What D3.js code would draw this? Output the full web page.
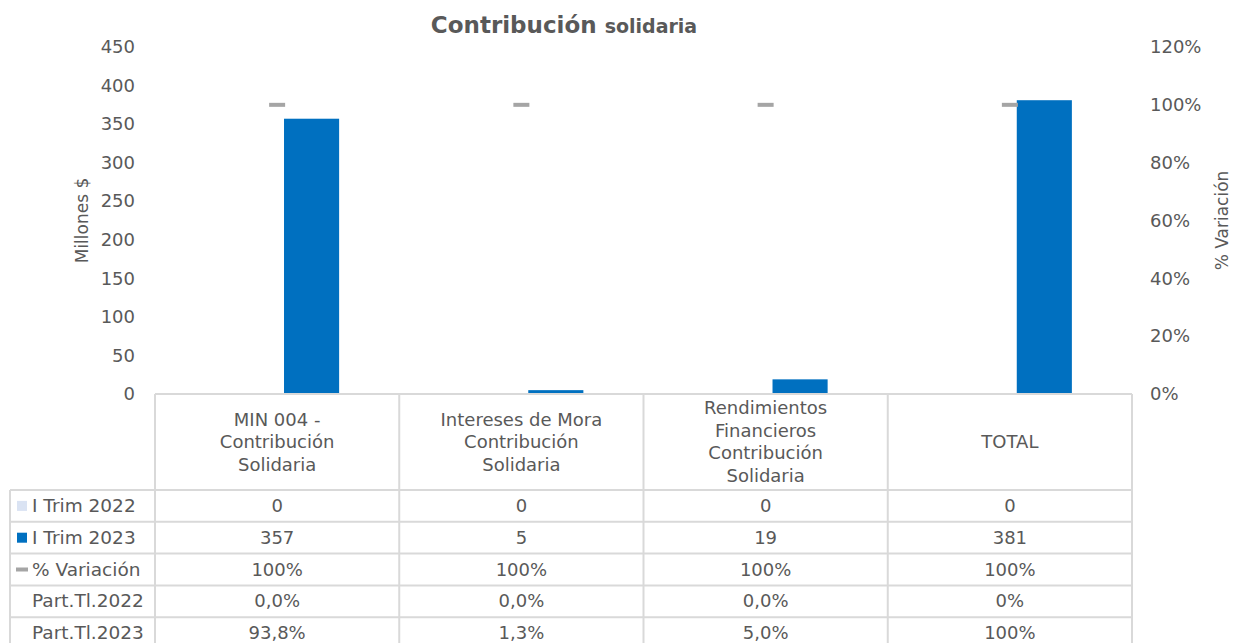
<!DOCTYPE html>
<html>
<head>
<meta charset="utf-8">
<script src="https://cdn.jsdelivr.net/npm/d3@7"></script>
<style>
  body { margin: 0; background: #fff; }
  text { font-family: "DejaVu Sans", Verdana, sans-serif; fill: #595959; }
</style>
</head>
<body>
<div id="chart"></div>
<script>
// data
const categories = [
  ["MIN 004 -", "Contribución", "Solidaria"],
  ["Intereses de Mora", "Contribución", "Solidaria"],
  ["Rendimientos", "Financieros", "Contribución", "Solidaria"],
  ["TOTAL"]
]
const series = ["I Trim 2022", "I Trim 2023"]
const trim2022 = [0, 0, 0, 0]
const trim2023 = [357, 5, 19, 381]
const variacion = [1, 1, 1, 1]
const part2022 = ["0,0%", "0,0%", "0,0%", "0%"]
const part2023 = ["93,8%", "1,3%", "5,0%", "100%"]
const leftTicks = [0, 50, 100, 150, 200, 250, 300, 350, 400, 450]
const rightTicks = [0, 0.2, 0.4, 0.6, 0.8, 1, 1.2]

const width = 1235, height = 643
const plotLeft = 155, plotRight = 1132, plotTop = 47, plotBottom = 394
const colors = {"I Trim 2022": "#DAE3F3", "I Trim 2023": "#0070C0"}
const gridColor = "#D9D9D9"
const varColor = "#A5A5A5"

const svg = d3.select("#chart").append("svg")
  .attr("width", width)
  .attr("height", height)

const idx = d3.range(categories.length)

const x0 = d3.scaleBand().domain(idx).range([plotLeft, plotRight])
const x1 = d3.scaleBand().domain(series).range([-62, 62]).paddingInner(0.2)
const yLeft = d3.scaleLinear().domain([0, 450]).range([plotBottom, plotTop])
const yRight = d3.scaleLinear().domain([0, 1.2]).range([plotBottom, plotTop])

// title
const title = svg.append("text")
  .attr("x", 564)
  .attr("y", 33)
  .attr("text-anchor", "middle")
  .style("font-weight", "bold")
title.append("tspan").attr("font-size", 23).text("Contribución ")
title.append("tspan").attr("font-size", 19).text("solidaria")

// axes
const leftAxis = svg.append("g")
  .attr("transform", `translate(${plotLeft}, 0)`)
  .call(d3.axisLeft(yLeft).tickValues(leftTicks).tickSize(0).tickPadding(20))
leftAxis.select(".domain").remove()
leftAxis.selectAll("text").attr("font-size", 18).style("font-family", null)

const rightAxis = svg.append("g")
  .attr("transform", `translate(${plotRight}, 0)`)
  .call(d3.axisRight(yRight).tickValues(rightTicks).tickSize(0).tickPadding(18).tickFormat(d3.format(".0%")))
rightAxis.select(".domain").remove()
rightAxis.selectAll("text").attr("font-size", 18).style("font-family", null)

svg.append("text")
  .attr("transform", `translate(88, ${(plotTop + plotBottom) / 2}) rotate(-90)`)
  .attr("text-anchor", "middle")
  .attr("font-size", 17)
  .text("Millones $")

svg.append("text")
  .attr("transform", `translate(1228, ${(plotTop + plotBottom) / 2}) rotate(-90)`)
  .attr("text-anchor", "middle")
  .attr("font-size", 17)
  .text("% Variación")

// bars
const barData = idx.flatMap(i => [
  {i, s: series[0], v: trim2022[i]},
  {i, s: series[1], v: trim2023[i]}
])
svg.append("g").selectAll("rect")
  .data(barData)
  .join("rect")
  .attr("x", d => x0(d.i) + x0.bandwidth() / 2 + x1(d.s))
  .attr("y", d => yLeft(d.v))
  .attr("width", x1.bandwidth())
  .attr("height", d => yLeft(0) - yLeft(d.v))
  .attr("fill", d => colors[d.s])

// variation markers
svg.append("g").selectAll("rect")
  .data(idx)
  .join("rect")
  .attr("x", i => x0(i) + x0.bandwidth() / 2 - 8)
  .attr("y", i => yRight(variacion[i]) - 2)
  .attr("width", 16)
  .attr("height", 4)
  .attr("fill", varColor)

// data table
const headerBottom = 490
const rowH = 31.8
const rows = [
  {label: "I Trim 2022", key: "sq", color: colors["I Trim 2022"], vals: trim2022.map(String)},
  {label: "I Trim 2023", key: "sq", color: colors["I Trim 2023"], vals: trim2023.map(String)},
  {label: "% Variación", key: "dash", color: varColor, vals: variacion.map(d3.format(".0%"))},
  {label: "Part.Tl.2022", key: null, vals: part2022},
  {label: "Part.Tl.2023", key: null, vals: part2023}
]
const table = svg.append("g")
const line = (x1, y1, x2, y2) => table.append("line")
  .attr("x1", x1).attr("y1", y1).attr("x2", x2).attr("y2", y2)
  .attr("stroke", gridColor).attr("stroke-width", 2)

const tableBottom = headerBottom + rowH * rows.length
line(plotLeft, plotBottom, plotRight, plotBottom)
idx.forEach(i => line(x0(i), plotBottom, x0(i), tableBottom))
line(plotRight, plotBottom, plotRight, tableBottom)
line(10, headerBottom, 10, tableBottom)
rows.forEach((r, k) => line(10, headerBottom + rowH * k, plotRight, headerBottom + rowH * k))

// header labels
idx.forEach(i => {
  const lines = categories[i]
  const lh = 22.5
  const cy = (plotBottom + headerBottom) / 2
  const t = table.append("text")
    .attr("text-anchor", "middle")
    .attr("font-size", 18)
  lines.forEach((l, j) => {
    t.append("tspan")
      .attr("x", x0(i) + x0.bandwidth() / 2)
      .attr("y", cy - (lines.length - 1) * lh / 2 + j * lh + 6)
      .text(l)
  })
})

// rows
rows.forEach((r, k) => {
  const cy = headerBottom + rowH * k + rowH / 2
  if (r.key === "sq") {
    table.append("rect").attr("x", 17).attr("y", cy - 5).attr("width", 10).attr("height", 10).attr("fill", r.color)
  } else if (r.key === "dash") {
    table.append("rect").attr("x", 16).attr("y", cy - 2).attr("width", 12).attr("height", 4).attr("fill", r.color)
  }
  table.append("text")
    .attr("x", 32)
    .attr("y", cy + 6)
    .attr("font-size", 18.5)
    .text(r.label)
  r.vals.forEach((v, i) => {
    table.append("text")
      .attr("x", x0(i) + x0.bandwidth() / 2)
      .attr("y", cy + 6)
      .attr("text-anchor", "middle")
      .attr("font-size", 18)
      .text(v)
  })
})
</script>
</body>
</html>
